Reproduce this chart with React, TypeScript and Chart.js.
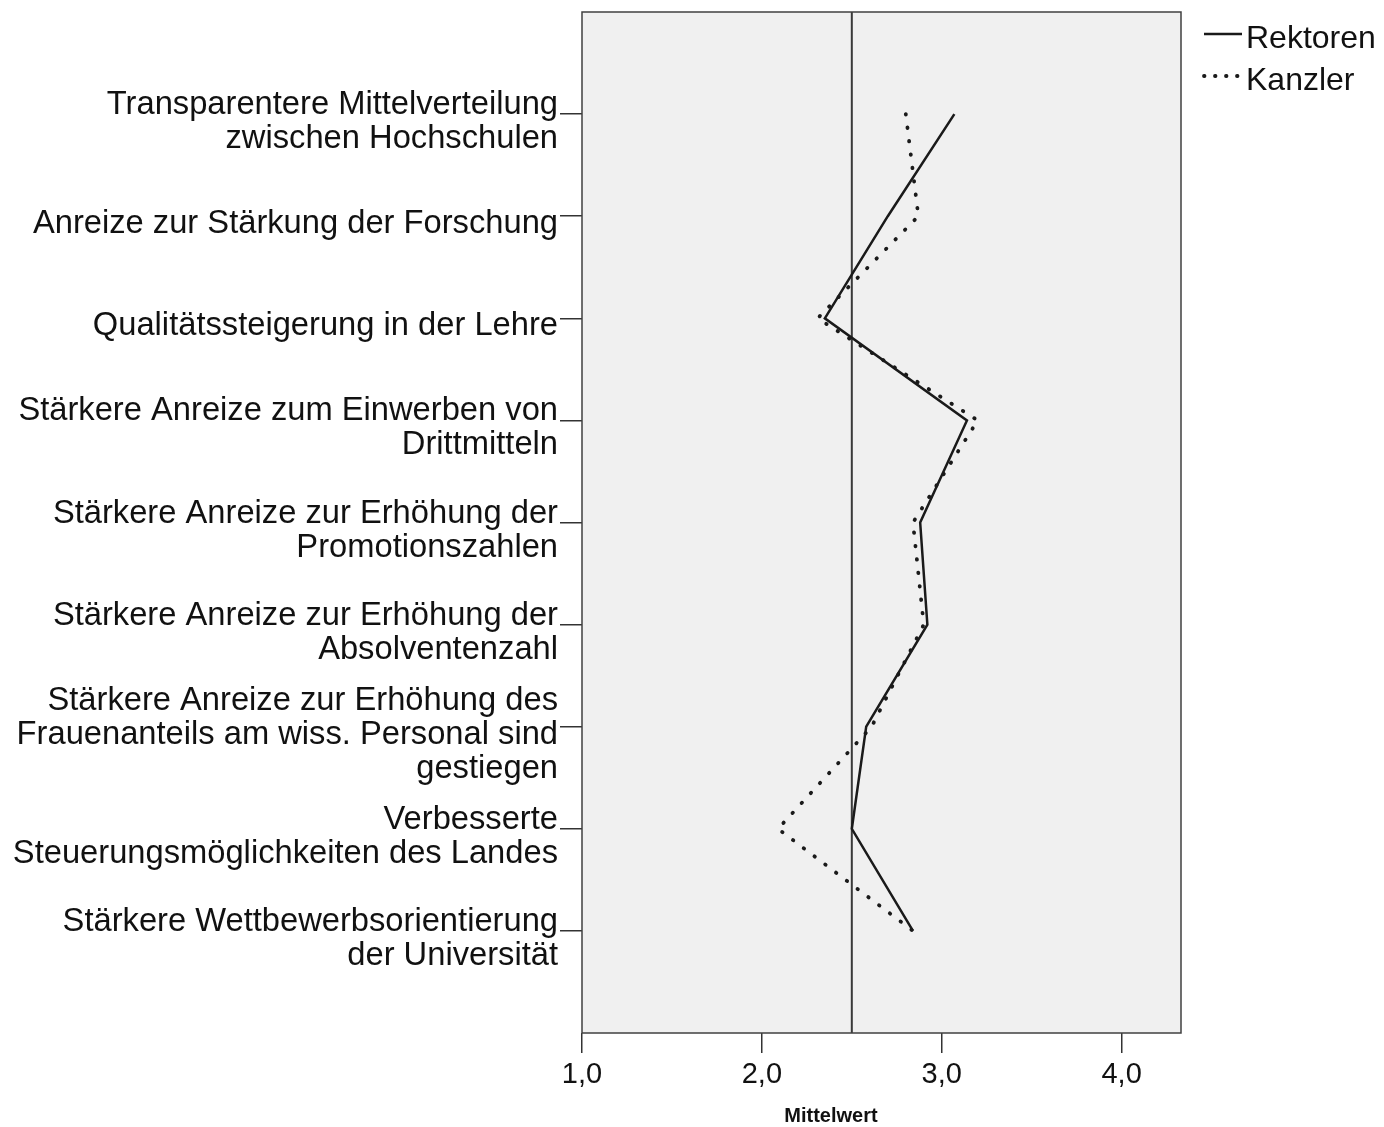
import React, { useEffect, useRef } from "react";
import { Chart, registerables } from "chart.js";

Chart.register(...registerables);

const categories: (string | string[])[] = [
  ["Transparentere Mittelverteilung", "zwischen Hochschulen"],
  "Anreize zur Stärkung der Forschung",
  "Qualitätssteigerung in der Lehre",
  ["Stärkere Anreize zum Einwerben von", "Drittmitteln"],
  ["Stärkere Anreize zur Erhöhung der", "Promotionszahlen"],
  ["Stärkere Anreize zur Erhöhung der", "Absolventenzahl"],
  ["Stärkere Anreize zur Erhöhung des", "Frauenanteils am wiss. Personal sind", "gestiegen"],
  ["Verbesserte", "Steuerungsmöglichkeiten des Landes"],
  ["Stärkere Wettbewerbsorientierung", "der Universität"],
];

const rektoren = [3.07, 2.7, 2.35, 3.14, 2.88, 2.92, 2.58, 2.5, 2.84];
const kanzler = [2.8, 2.87, 2.31, 3.2, 2.84, 2.9, 2.61, 2.09, 2.84];
const seriesNames = ["Rektoren", "Kanzler"];
const xTicks = [1, 2, 3, 4];
const xMin = 1;
const xMax = 4.33;
const referenceValue = 2.5;
const axisTitle = "Mittelwert";

const FONT = "'Liberation Sans', Arial, sans-serif";
const INK = "#1a1a1a";
const DOT_DASH = [0.5, 13];

const decorPlugin = {
  id: "decor",
  beforeDraw(chart: any) {
    const { ctx, chartArea: a } = chart;
    ctx.save();
    ctx.fillStyle = "#f0f0f0";
    ctx.fillRect(a.left, a.top, a.right - a.left, a.bottom - a.top);
    ctx.restore();
  },
  beforeDatasetsDraw(chart: any) {
    const { ctx, chartArea: a, scales } = chart;
    const x = scales.x.getPixelForValue(referenceValue);
    ctx.save();
    ctx.strokeStyle = "#3a3a3a";
    ctx.lineWidth = 2;
    ctx.beginPath();
    ctx.moveTo(x, a.top);
    ctx.lineTo(x, a.bottom);
    ctx.stroke();
    ctx.restore();
  },
  afterDatasetsDraw(chart: any) {
    const { ctx, chartArea: a } = chart;
    ctx.save();
    ctx.strokeStyle = "#404040";
    ctx.lineWidth = 1.5;
    ctx.strokeRect(a.left, a.top, a.right - a.left, a.bottom - a.top);
    ctx.restore();
  },
  afterDraw(chart: any) {
    const { ctx } = chart;
    const ds = chart.data.datasets;
    ctx.save();
    ds.forEach((d: any, i: number) => {
      const y = 26 + i * 42;
      ctx.strokeStyle = INK;
      ctx.lineWidth = i === 0 ? 2.5 : 3.8;
      ctx.lineCap = i === 0 ? "butt" : "round";
      ctx.setLineDash(i === 0 ? [] : [0.5, 10.5]);
      ctx.beginPath();
      ctx.moveTo(1196, y);
      ctx.lineTo(1234, y);
      ctx.stroke();
      ctx.setLineDash([]);
      ctx.fillStyle = "#111";
      ctx.font = `32px ${FONT}`;
      ctx.textAlign = "left";
      ctx.textBaseline = "middle";
      ctx.fillText(d.label, 1238, y + 5);
    });
    // axis title
    ctx.fillStyle = "#111";
    ctx.font = `bold 20px ${FONT}`;
    ctx.textAlign = "center";
    ctx.textBaseline = "middle";
    ctx.fillText(axisTitle, 823, 1108);
    ctx.restore();
  },
};

export default function App() {
  const ref = useRef<HTMLCanvasElement>(null);
  useEffect(() => {
    document.documentElement.style.overflow = "hidden";
    document.body.style.overflow = "hidden";
    if (!ref.current) return;
    const chart = new Chart(ref.current, {
      type: "scatter",
      data: {
        datasets: [
          {
            label: seriesNames[0],
            data: rektoren.map((v, i) => ({ x: v, y: i })),
            showLine: true,
            borderColor: INK,
            borderWidth: 2.5,
            pointRadius: 0,
            tension: 0,
          },
          {
            label: seriesNames[1],
            data: kanzler.map((v, i) => ({ x: v, y: i })),
            showLine: true,
            borderColor: INK,
            borderWidth: 3.8,
            borderDash: DOT_DASH,
            borderCapStyle: "round",
            pointRadius: 0,
            tension: 0,
          },
        ],
      },
      options: {
        animation: false,
        responsive: true,
        maintainAspectRatio: false,
        layout: { padding: { top: 4, right: 195, left: 0, bottom: 0 } },
        plugins: {
          legend: { display: false },
          tooltip: { enabled: false },
        },
        scales: {
          x: {
            type: "linear",
            min: xMin,
            max: xMax,
            afterBuildTicks: (s: any) => {
              s.ticks = xTicks.map((v) => ({ value: v }));
            },
            afterFit: (s: any) => {
              s.height = 94;
              s.paddingLeft = 0;
              s.paddingRight = 0;
            },
            border: { display: false },
            grid: {
              display: true,
              drawOnChartArea: false,
              drawTicks: true,
              tickLength: 20,
              color: "#333",
              lineWidth: 1.5,
            },
            ticks: {
              padding: 5,
              color: "#111",
              font: { family: FONT, size: 29 },
              maxRotation: 0,
              callback: (v: any) => Number(v).toFixed(1).replace(".", ","),
            },
          },
          y: {
            type: "linear",
            min: -1,
            max: categories.length,
            reverse: true,
            afterBuildTicks: (s: any) => {
              s.ticks = categories.map((_, i) => ({ value: i }));
            },
            afterFit: (s: any) => {
              s.width = 574;
              s.paddingTop = 0;
              s.paddingBottom = 0;
            },
            border: { display: false },
            grid: {
              display: true,
              drawOnChartArea: false,
              drawTicks: true,
              tickLength: 22,
              color: "#333",
              lineWidth: 1.5,
            },
            ticks: {
              padding: 2,
              crossAlign: "near",
              labelOffset: 8,
              color: "#111",
              autoSkip: false,
              font: { family: FONT, size: 32.7, lineHeight: 1.04 },
              callback: (v: any) => categories[Number(v)] as any,
            },
          },
        },
      },
      plugins: [decorPlugin],
    } as any);
    return () => chart.destroy();
  }, []);
  return (
    <div style={{ width: 1368, height: 1119, position: "relative" }}>
      <canvas ref={ref} />
    </div>
  );
}
